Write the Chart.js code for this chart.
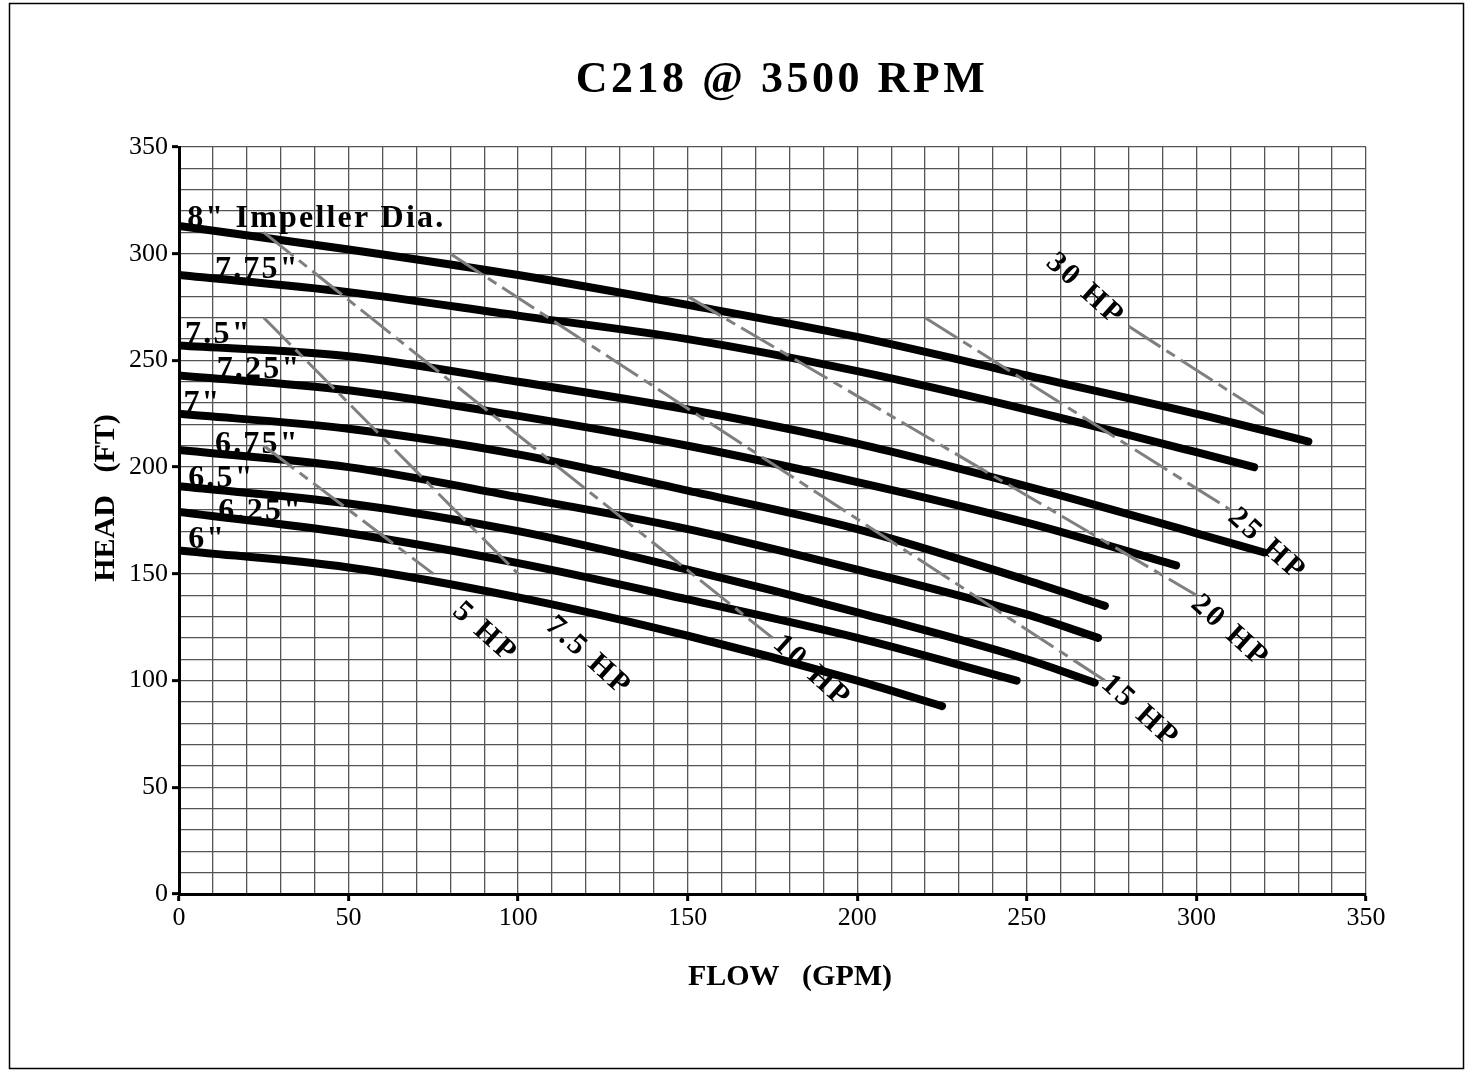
<!DOCTYPE html>
<html>
<head>
<meta charset="utf-8">
<script src="https://cdn.jsdelivr.net/npm/chart.js@4/dist/chart.umd.min.js"></script>
<style>
  html,body{margin:0;padding:0;background:#fff;}
  #wrap{width:1473px;height:1072px;}
</style>
</head>
<body>
<div id="wrap"><canvas id="c" width="1473" height="1072"></canvas></div>
<script>
// ---------- DATA ----------
const chartTitle = 'C218 @ 3500 RPM';
const xTitle = 'FLOW   (GPM)';
const yTitle = 'HEAD   (FT)';

// Impeller curves (flow GPM, head FT)
const flow8   = [0, 50, 100, 150, 200, 250, 300, 333];
const head8   = [313, 302, 290, 276, 261, 243, 225, 212];
const flow775 = [0, 50, 100, 150, 200, 250, 300, 317];
const head775 = [290, 282, 271, 260, 245, 227, 207, 200];
const flow75  = [0, 50, 100, 150, 200, 250, 300, 320];
const head75  = [257, 252, 240, 227, 211, 191, 169, 160];
const flow725 = [0, 50, 100, 150, 200, 250, 294];
const head725 = [243, 236, 224, 210, 193, 174, 154];
const flow7   = [0, 50, 100, 150, 200, 250, 273];
const head7   = [225, 218, 206, 189, 171, 147, 135];
const flow675 = [0, 50, 100, 150, 200, 250, 271];
const head675 = [208, 200, 186, 171, 152, 131, 120];
const flow65  = [0, 50, 100, 150, 200, 250, 270];
const head65  = [191, 183, 170, 152, 132, 110, 99];
const flow625 = [0, 50, 100, 150, 200, 247];
const head625 = [179, 169, 155, 138, 120, 100];
const flow6   = [0, 50, 100, 150, 200, 225];
const head6   = [161, 153, 139, 121, 100, 88];

const impNames = ['8" Impeller Dia.', '7.75"', '7.5"', '7.25"', '7"', '6.75"', '6.5"', '6.25"', '6"'];
const impFlows = [flow8, flow775, flow75, flow725, flow7, flow675, flow65, flow625, flow6];
const impHeads = [head8, head775, head75, head725, head7, head675, head65, head625, head6];
// label anchors (left/baseline) in data units
const impLabelFlow = [2.4, 10.6, 1.8, 11.1, 1.3, 10.6, 2.7, 11.6, 2.7];
const impLabelHead = [312.7, 288.6, 258, 241.6, 226, 206.5, 190.8, 175.3, 162];

// Horsepower lines
const hpNames = ['5 HP', '7.5 HP', '10 HP', '15 HP', '20 HP', '25 HP', '30 HP'];
const hpFlows = [[25, 75], [25, 100], [25, 175], [80, 273], [150, 300], [220, 310], [280, 320]];
const hpHeads = [[210, 150], [270, 150], [310, 120], [300, 100], [280, 140], [270, 180], [266, 225]];
// label centres in data units
const hpLabelFlow = [90.2, 120.7, 186.6, 283.4, 309.9, 320.8, 267.2];
const hpLabelHead = [122.3, 111.2, 104.1, 85.4, 122.9, 163.5, 283];

// Axis ticks
const xMin = 0, xMax = 350, yMin = 0, yMax = 350, gridStep = 10, labelStep = 50;

// ---------- BUILD ----------
const SERIF = '"Liberation Serif", "Times New Roman", serif';
const toPts = (xs, ys) => xs.map((x, i) => ({x: x, y: ys[i]}));

const datasets = [];
hpNames.forEach((n, i) => {
  datasets.push({
    label: n,
    data: toPts(hpFlows[i], hpHeads[i]),
    borderColor: '#7f7f7f',
    borderWidth: 3,
    borderDash: [38, 7, 10, 7],
    pointRadius: 0,
    tension: 0,
    fill: false
  });
});
impNames.forEach((n, i) => {
  datasets.push({
    label: n,
    data: toPts(impFlows[i], impHeads[i]),
    borderColor: '#000',
    borderWidth: 8,
    borderCapStyle: 'round',
    borderJoinStyle: 'round',
    pointRadius: 0,
    cubicInterpolationMode: 'monotone',
    fill: false
  });
});

const deco = {
  id: 'deco',
  beforeDatasetsDraw(chart) {
    const ctx = chart.ctx, xs = chart.scales.x, ys = chart.scales.y;
    ctx.save();
    ctx.fillStyle = '#000';
    // impeller labels
    ctx.font = 'bold 32px ' + SERIF;
    ctx.letterSpacing = '2.2px';
    ctx.textAlign = 'left';
    ctx.textBaseline = 'alphabetic';
    impNames.forEach((n, i) => {
      ctx.fillText(n, xs.getPixelForValue(impLabelFlow[i]), ys.getPixelForValue(impLabelHead[i]));
    });
    // HP labels
    ctx.font = 'bold 30px ' + SERIF;
    ctx.letterSpacing = '3px';
    ctx.textAlign = 'center';
    ctx.textBaseline = 'middle';
    hpNames.forEach((n, i) => {
      ctx.save();
      ctx.translate(xs.getPixelForValue(hpLabelFlow[i]), ys.getPixelForValue(hpLabelHead[i]));
      ctx.rotate(42 * Math.PI / 180);
      ctx.fillText(n, 0, 0);
      ctx.restore();
    });
    ctx.restore();
  },
  afterDraw(chart) {
    const ctx = chart.ctx;
    ctx.save();
    ctx.fillStyle = '#000';
    // title
    ctx.font = 'bold 44px ' + SERIF;
    ctx.letterSpacing = '3.5px';
    ctx.textAlign = 'center';
    ctx.textBaseline = 'alphabetic';
    ctx.fillText(chartTitle, 782, 92);
    // x title
    ctx.font = 'bold 30px ' + SERIF;
    ctx.letterSpacing = '0px';
    ctx.fillText(xTitle, 790, 985);
    // y title
    ctx.save();
    ctx.translate(114, 498);
    ctx.rotate(-Math.PI / 2);
    ctx.fillText(yTitle, 0, 0);
    ctx.restore();
    // outer frame
    ctx.strokeStyle = '#000';
    ctx.lineWidth = 1.5;
    ctx.strokeRect(9.5, 3.5, 1454, 1065);
    ctx.restore();
  }
};

const gridCol = '#555555';
const tickCol = c => (c.tick && c.tick.value % labelStep === 0) ? '#000' : 'rgba(0,0,0,0)';

new Chart(document.getElementById('c'), {
  type: 'line',
  data: { datasets: datasets },
  options: {
    responsive: false,
    animation: false,
    events: [],
    layout: { padding: { left: 0, right: 107, top: 147, bottom: 118 } },
    plugins: { legend: { display: false }, tooltip: { enabled: false }, title: { display: false } },
    scales: {
      x: {
        type: 'linear', min: xMin, max: xMax,
        afterFit: s => { s.height = 60; },
        border: { display: true, color: '#000', width: 3 },
        grid: { color: gridCol, lineWidth: 1.3, drawTicks: true, tickLength: 7, tickWidth: 3, tickColor: tickCol },
        ticks: {
          stepSize: gridStep, autoSkip: false, maxRotation: 0, padding: 2,
          color: '#000', font: { family: SERIF, size: 26 },
          callback: v => (v % labelStep === 0 ? String(v) : '')
        }
      },
      y: {
        type: 'linear', min: yMin, max: yMax,
        afterFit: s => { s.width = 179; },
        border: { display: true, color: '#000', width: 3 },
        grid: { color: gridCol, lineWidth: 1.3, drawTicks: true, tickLength: 7, tickWidth: 3, tickColor: tickCol },
        ticks: {
          stepSize: gridStep, autoSkip: false, padding: 4,
          color: '#000', font: { family: SERIF, size: 26 },
          callback: v => (v % labelStep === 0 ? String(v) : '')
        }
      }
    }
  },
  plugins: [deco]
});
</script>
</body>
</html>
